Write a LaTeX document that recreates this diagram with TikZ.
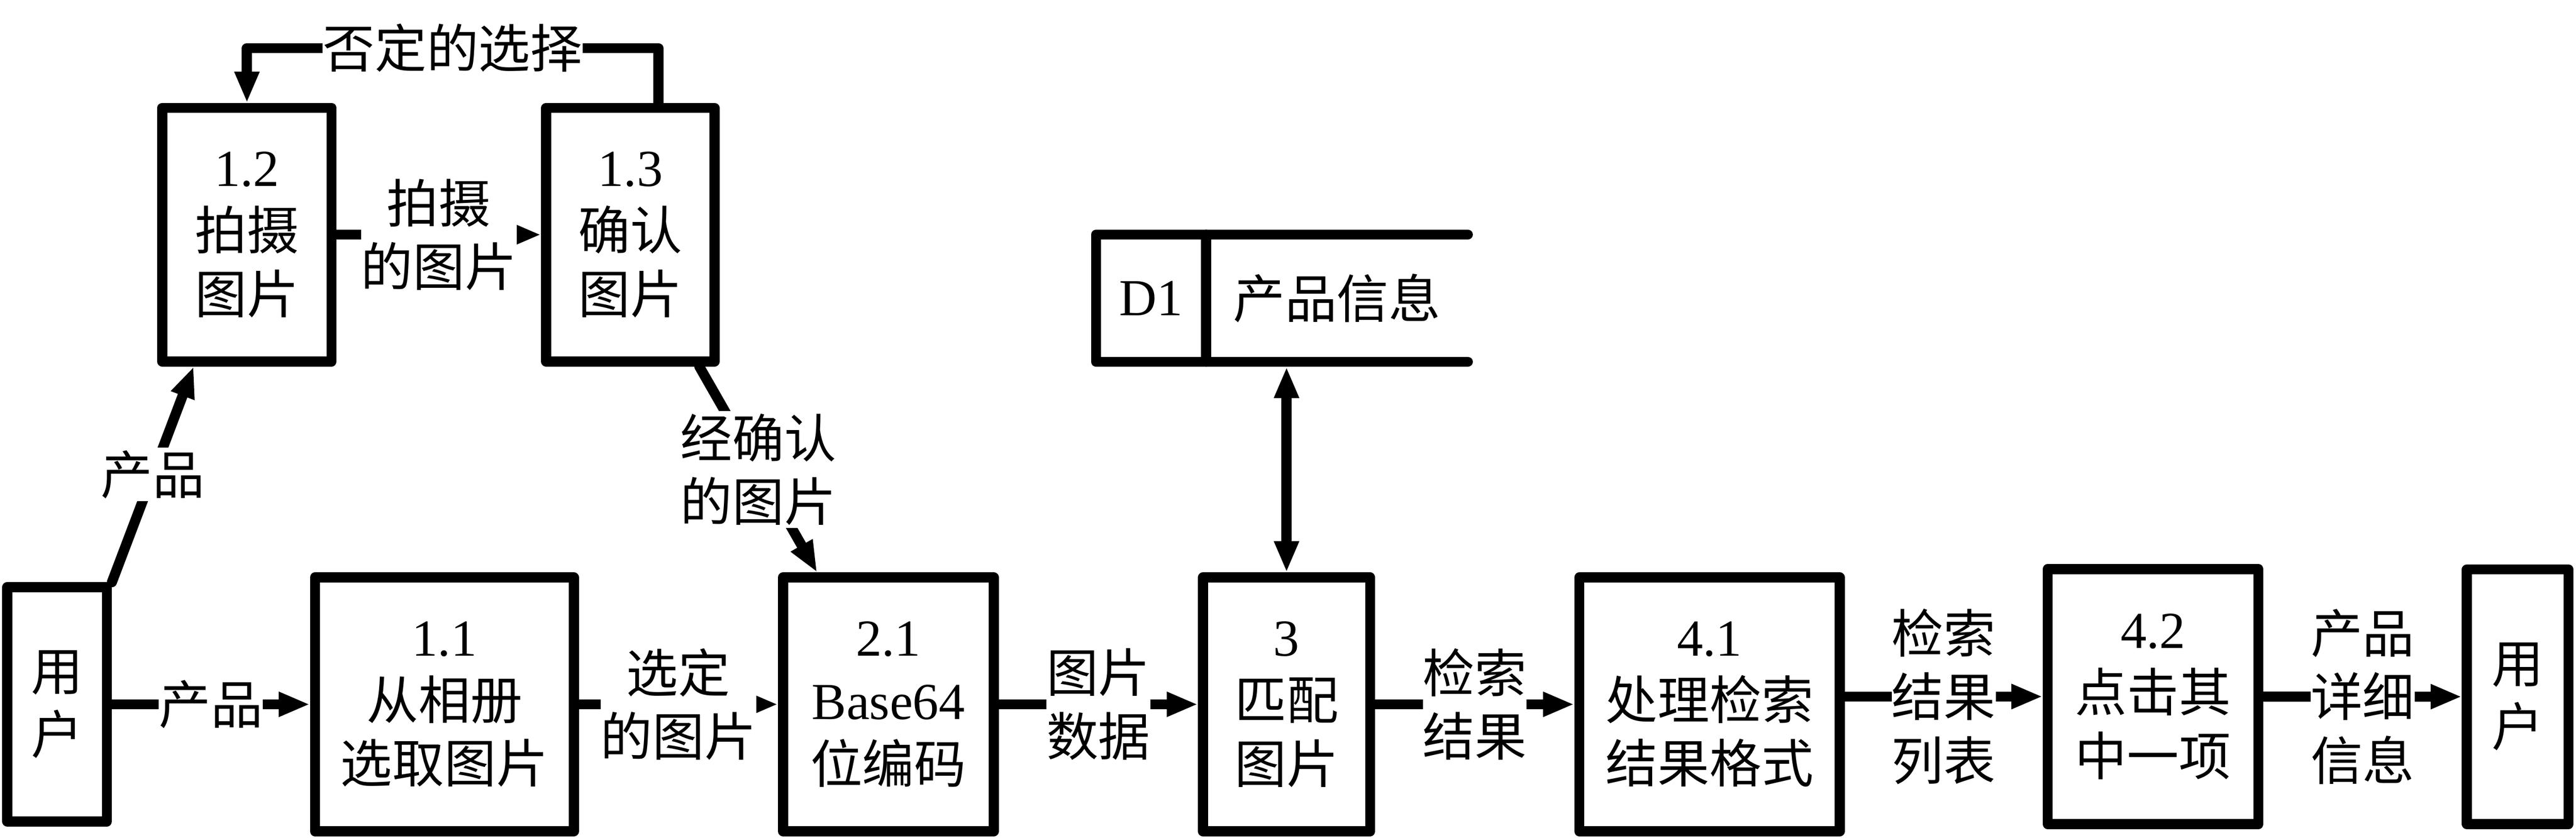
\documentclass[tikz,border=0pt]{standalone}
\usepackage{fontspec}
\setmainfont{Liberation Serif}
\newfontfamily\cjk{Noto Sans CJK SC}
\usetikzlibrary{arrows.meta}
\def\idx#1{{\rmfamily #1}}

\begin{document}
\begin{tikzpicture}[font=\cjk\fontsize{18}{22}\selectfont,
		line cap=round, line join=round,
		box/.style={draw, line width=3.5pt, align=center, inner sep=0pt},
		store/.style={line width=3.5pt, outer sep=0pt, inner sep=0pt, minimum height=1.55cm},
		lbl/.style={fill=white, align=center, inner xsep=0pt, inner ysep=1pt},
		flow/.style={line width=3.5pt, -{Triangle[length=0.38cm, width=0.28cm]}},
		dflow/.style={line width=3.5pt, {Triangle[length=0.38cm, width=0.28cm]}-{Triangle[length=0.38cm, width=0.28cm]}}]
		%%%%% START %%%%%
		
		\useasboundingbox (0, 0) rectangle (31.36, 10.201);
		
		\node[box, minimum width=1.213cm, minimum height=2.851cm] (userL) at (0.694, 1.624) {用\\户};
		\node[box, minimum width=3.151cm, minimum height=3.091cm] (b11) at (5.410, 1.624) {\idx{1.1}\\从相册\\选取图片};
		\node[box, minimum width=2.565cm, minimum height=3.091cm] (b21) at (10.815, 1.624) {\idx{2.1}\\\idx{Base64}\\位编码};
		\node[box, minimum width=2.035cm, minimum height=3.091cm] (b3) at (15.662, 1.624) {\idx{3}\\匹配\\图片};
		\node[box, minimum width=3.170cm, minimum height=3.091cm] (b41) at (20.811, 1.624) {\idx{4.1}\\处理检索\\结果格式};
		\node[box, minimum width=2.565cm, minimum height=3.105cm] (b42) at (26.211, 1.719) {\idx{4.2}\\点击其\\中一项};
		\node[box, minimum width=1.237cm, minimum height=3.100cm] (userR) at (30.650, 1.717) {用\\户};
		
		\node[box, minimum width=2.062cm, minimum height=3.087cm] (b12) at (3.006, 7.343) {\idx{1.2}\\拍摄\\图片};
		\node[box, minimum width=2.049cm, minimum height=3.087cm] (b13) at (7.673, 7.343) {\idx{1.3}\\确认\\图片};
		
		\node[store, minimum width=1.338cm] (d1) at (14.012, 6.570) {\idx{D1}};
		\node[store, minimum width=3.188cm] (pinfo) at (16.275, 6.570) {产品信息};
		\draw[line width=3.5pt] (pinfo.north east) -- (d1.north west) -- (d1.south west) -- (pinfo.south east);
		\draw[line width=3.5pt] (d1.north east) -- (d1.south east);
		
		\draw[flow] (userL) -- node[lbl] {产品} (b11);
		\draw[flow] (b11) -- node[lbl] {选定\\的图片} (b21);
		\draw[flow] (b21) -- node[lbl] {图片\\数据} (b3);
		\draw[flow] (b3) -- node[lbl] {检索\\结果} (b41);
		\draw[flow] (b41.east |- b42) -- node[lbl] {检索\\结果\\列表} (b42);
		\draw[flow] (b42) -- node[lbl] {产品\\详细\\信息} (userR);
		
		\draw[flow] (userL.north east) -- node[lbl] {产品} ([xshift=-0.648cm]b12.south);
		\draw[flow] (b12) -- node[lbl] {拍摄\\的图片} (b13);
		\draw[flow] ([xshift=0.84cm]b13.south) -- node[lbl] {经确认\\的图片} ([xshift=-0.868cm]b21.north);
		
		\coordinate (fb) at (8.014, 9.615);
		\draw[flow] (b13.north -| fb) -- (fb) -- node[lbl] {否定的选择} (fb -| b12) -- (b12.north);
		
		\draw[dflow, shorten <=1.75pt] (pinfo.south -| b3.north) -- (b3.north);
		
		%%%%% END %%%%%
	\end{tikzpicture}
\end{document}
